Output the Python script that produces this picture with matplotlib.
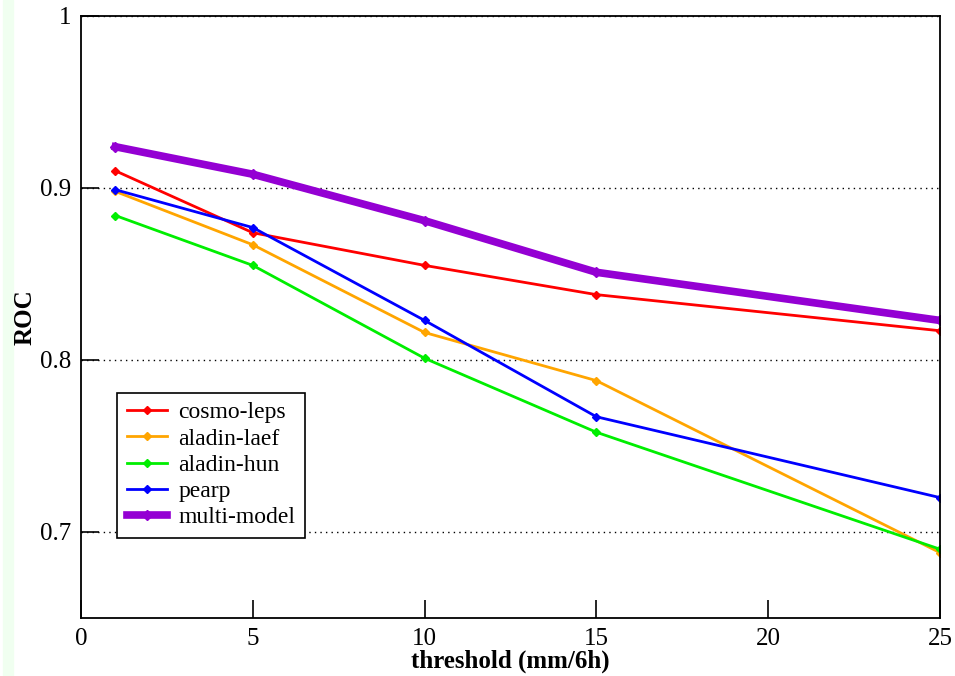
import matplotlib
matplotlib.use("Agg")
import matplotlib.pyplot as plt
from matplotlib.patches import Rectangle

thresholds = [1, 5, 10, 15, 25]
cosmo_leps = [0.910, 0.874, 0.855, 0.838, 0.817]
aladin_laef = [0.898, 0.867, 0.816, 0.788, 0.688]
aladin_hun = [0.884, 0.855, 0.801, 0.758, 0.690]
pearp = [0.899, 0.877, 0.823, 0.767, 0.720]
multi_model = [0.924, 0.908, 0.881, 0.851, 0.823]

series = [
    ("cosmo-leps", cosmo_leps, "#ff0000", 2.0),
    ("aladin-laef", aladin_laef, "#ffa500", 2.0),
    ("aladin-hun", aladin_hun, "#00ee00", 2.0),
    ("pearp", pearp, "#0000ff", 2.0),
    ("multi-model", multi_model, "#9400d3", 5.5),
]

plt.rcParams['font.family'] = ['Liberation Serif', 'DejaVu Serif']

fig = plt.figure(figsize=(9.55, 6.76), dpi=100)
# pale green strip on the left edge
fig.patches.append(Rectangle((3 / 955, 0), 10 / 955, 1, transform=fig.transFigure,
                             color="#f0fff0", zorder=-1))
ax = fig.add_axes([81 / 955, 1 - 618 / 676, 859 / 955, 602 / 676])

for name, vals, color, lw in series:
    ax.plot(thresholds, vals, color=color, linewidth=lw, marker="D",
            markersize=4 if lw < 3 else 5, label=name)

ax.set_xlim(0, 25)
ax.set_ylim(0.65, 1.0)
ax.set_xticks([0, 5, 10, 15, 20, 25])
ax.set_yticks([0.7, 0.8, 0.9, 1.0])
ax.set_yticklabels(["0.7", "0.8", "0.9", "1"])
ax.tick_params(direction="in", length=13, width=1.2, labelsize=18, pad=7,
               top=False, right=False)
ax.yaxis.grid(True, linestyle=(0, (1, 3)), color="black", linewidth=1)
for s in ax.spines.values():
    s.set_linewidth(1.3)

ax.set_xlabel("threshold (mm/6h)", fontweight="bold", fontsize=18, labelpad=0)
ax.set_ylabel("ROC", fontweight="bold", fontsize=18)
ax.yaxis.set_label_coords(-0.052, 0.5)

leg = ax.legend(loc="lower left", bbox_to_anchor=(0.042, 0.133), fontsize=17,
                fancybox=False, edgecolor="black", framealpha=1,
                handlelength=1.7, handletextpad=0.5, labelspacing=0.2,
                borderpad=0.4, borderaxespad=0)
leg.get_frame().set_linewidth(1.2)

fig.savefig("out.png", dpi=100)
